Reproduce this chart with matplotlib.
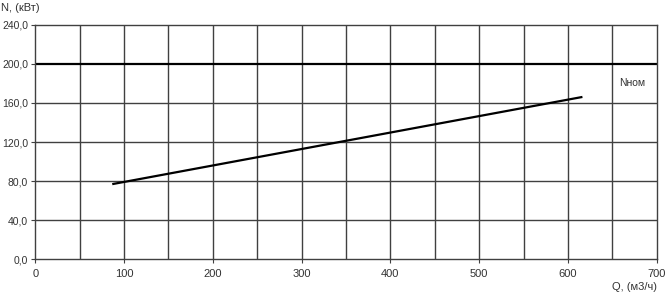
import matplotlib.pyplot as plt
import numpy as np

# данные
q_line = [88, 615]
n_line = [77, 166]
n_nom = 200
x_ticks = [0, 100, 200, 300, 400, 500, 600, 700]
y_ticks = [0, 40, 80, 120, 160, 200, 240]

plt.rcParams['font.family'] = ['Liberation Sans', 'DejaVu Sans']

fig = plt.figure(figsize=(6.69, 2.93), dpi=100)
ax = fig.add_axes([0.0526, 0.116, 0.9292, 0.7987])

ax.set_xlim(0, 700)
ax.set_ylim(0, 240)

# сетка
for xv in np.arange(50, 700, 50):
    ax.axvline(xv, color='#404040', lw=1.0, zorder=1)
for yv in y_ticks[1:-1]:
    if yv != n_nom:
        ax.axhline(yv, color='#404040', lw=1.0, zorder=1)

ax.axhline(n_nom, color='black', lw=1.6, zorder=2)
ax.plot(q_line, n_line, color='black', lw=1.6, zorder=3)

ax.set_xticks(x_ticks)
ax.set_yticks(y_ticks)
ax.set_xticklabels([str(v) for v in x_ticks], fontsize=8, color='#333333')
ax.set_yticklabels([f'{v:.1f}'.replace('.', ',') for v in y_ticks], fontsize=7.5, color='#333333')
ax.tick_params(axis='x', length=3, width=0.8, color='#404040', pad=4)
ax.tick_params(axis='y', length=3, width=0.8, color='#404040', pad=2)
for s in ax.spines.values():
    s.set_color('#404040')
    s.set_linewidth(1.0)

ax.text(672, 181, 'Nном', fontsize=7.5, color='#333333', ha='center', va='center')
fig.text(0.002, 0.973, 'N, (кВт)', fontsize=8, color='#333333', ha='left', va='center')
fig.text(0.982, 0.02, 'Q, (м3/ч)', fontsize=8, color='#333333', ha='right', va='center')

fig.savefig('out.png', dpi=100)
